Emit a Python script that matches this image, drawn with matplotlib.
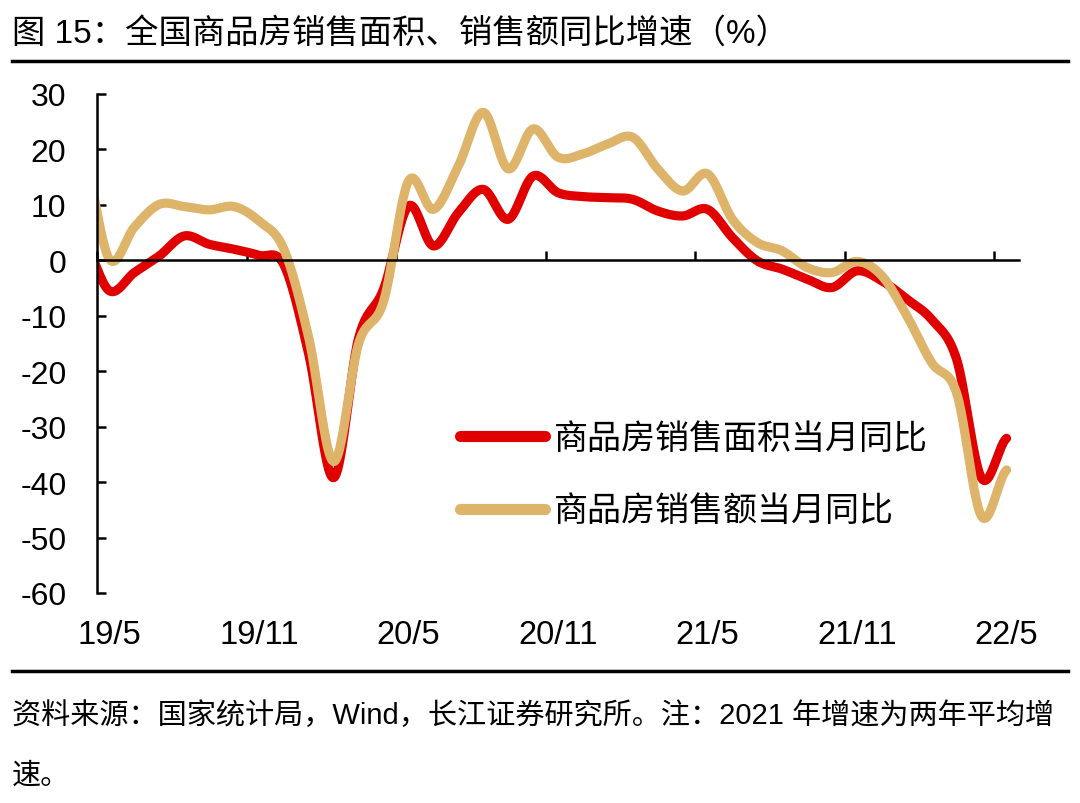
import numpy as np
import matplotlib
matplotlib.use("Agg")
import matplotlib.pyplot as plt

# 字体：数字用 Liberation Sans，中文回退到 Noto Sans CJK SC
plt.rcParams['font.family'] = ['Liberation Sans', 'Noto Sans CJK SC']
plt.rcParams['axes.unicode_minus'] = False

# 月份（19/4 在坐标轴左侧被裁掉，只为曲线从轴线处开始）
months = ["19/4", "19/5", "19/6", "19/7", "19/8", "19/9", "19/10", "19/11", "19/12",
          "20/1", "20/2", "20/3", "20/4", "20/5", "20/6", "20/7", "20/8", "20/9",
          "20/10", "20/11", "20/12", "21/1", "21/2", "21/3", "21/4", "21/5", "21/6",
          "21/7", "21/8", "21/9", "21/10", "21/11", "21/12", "22/1", "22/2", "22/3",
          "22/4", "22/5"]

# 商品房销售面积当月同比（%）
area_yoy = [3.0, -5.5, -2.2, 0.8, 4.4, 2.9, 2.0, 0.9, -0.8,
            -17.0, -39.2, -14.0, -5.2, 9.8, 2.6, 8.6, 12.8, 7.4,
            15.2, 12.2, 11.5, 11.3, 11.0, 8.9, 8.0, 9.2, 4.1,
            -0.1, -1.6, -3.4, -4.9, -1.9, -3.7, -7.0, -10.7, -17.9,
            -39.3, -32.1]

# 商品房销售额当月同比（%）
amount_yoy = [18.0, 0.2, 6.0, 10.1, 9.7, 9.1, 9.7, 7.1, 2.0,
              -14.0, -36.3, -15.0, -7.4, 14.3, 9.2, 17.0, 26.7, 16.5,
              23.7, 18.6, 19.2, 21.0, 22.2, 16.5, 12.5, 15.6, 7.4,
              3.2, 1.7, -1.3, -2.2, -0.2, -2.8, -10.0, -18.5, -24.0,
              -46.2, -37.8]

tick_labels = ["19/5", "19/11", "20/5", "20/11", "21/5", "21/11", "22/5"]
y_ticks = [30, 20, 10, 0, -10, -20, -30, -40, -50, -60]

RED = "#E00000"
GOLD = "#DDB469"


def smooth(y, n=24):
    # Catmull-Rom 平滑（类似 Excel 的平滑线）
    y = np.asarray(y, dtype=float)
    p = np.concatenate([[y[0]], y, [y[-1]]])
    xs, ys = [], []
    t = np.linspace(0, 1, n, endpoint=False)
    for i in range(len(y) - 1):
        p0, p1, p2, p3 = p[i], p[i + 1], p[i + 2], p[i + 3]
        seg = 0.5 * ((2 * p1) + (-p0 + p2) * t +
                     (2 * p0 - 5 * p1 + 4 * p2 - p3) * t ** 2 +
                     (-p0 + 3 * p1 - 3 * p2 + p3) * t ** 3)
        xs.append(i + t)
        ys.append(seg)
    xs.append([len(y) - 1])
    ys.append([y[-1]])
    return np.concatenate(xs) - 1, np.concatenate(ys)


fig = plt.figure(figsize=(10.8, 8.04), dpi=100)
ax = fig.add_axes([97 / 1080, 1 - 594 / 804, (1019 - 97) / 1080, (594 - 95) / 804])

x1, y1 = smooth(area_yoy)
x2, y2 = smooth(amount_yoy)
ax.plot(x1, y1, color=RED, lw=6.6, solid_capstyle='round', label="商品房销售面积当月同比")
ax.plot(x2, y2, color=GOLD, lw=6.6, solid_capstyle='round', label="商品房销售额当月同比")

ax.set_xlim(-0.5, len(months) - 1.5)
ax.set_ylim(-60, 30)

# 纵轴
ax.set_yticks(y_ticks)
ax.set_yticklabels([str(v) for v in y_ticks])
ax.tick_params(axis='y', direction='in', length=6.5, width=1.8, pad=22, labelsize=23)
ax.spines['left'].set_linewidth(1.8)

# 横轴线放在 0 处，刻度朝上
ax.spines['bottom'].set_position(('data', 0))
ax.spines['bottom'].set_linewidth(1.8)
ax.spines['bottom'].set_bounds(-0.5, len(months) - 1.5)
ax.spines['top'].set_visible(False)
ax.spines['right'].set_visible(False)
ax.set_xticks(np.arange(-0.5, len(months) - 1, 6))
ax.tick_params(axis='x', direction='in', length=6.5, width=1.8, labelbottom=False)

# 横轴标签在图底部
sec = ax.secondary_xaxis(0)
sec.set_xticks(np.arange(0, len(months) - 1, 6))
sec.set_xticklabels(tick_labels)
sec.tick_params(length=0, pad=19, labelsize=23.5)
sec.spines['bottom'].set_visible(False)

leg = ax.legend(loc='upper left', bbox_to_anchor=(460 / 1080, 1 - 424 / 804),
                bbox_transform=fig.transFigure, frameon=False, fontsize=24.5,
                handlelength=2.5, handletextpad=0.25, labelspacing=1.2,
                borderpad=0, borderaxespad=0)
for h in leg.get_lines():
    h.set_linewidth(8)
    h.set_solid_capstyle('round')

# 标题与分隔线
fig.text(12 / 1080, 1 - 34 / 804, "图 15：全国商品房销售面积、销售额同比增速（%）",
         fontsize=24, va='center', ha='left')
fig.add_artist(plt.Line2D([12 / 1080, 1068 / 1080], [1 - 62 / 804] * 2, color='black', lw=2.5))
fig.add_artist(plt.Line2D([12 / 1080, 1068 / 1080], [1 - 672 / 804] * 2, color='black', lw=2.5))

# 资料来源
fig.text(12 / 1080, 1 - 716 / 804,
         "资料来源：国家统计局，Wind，长江证券研究所。注：2021 年增速为两年平均增",
         fontsize=21, va='center', ha='left')
fig.text(12 / 1080, 1 - 776 / 804, "速。", fontsize=21, va='center', ha='left')

fig.savefig("out.png", dpi=100)
